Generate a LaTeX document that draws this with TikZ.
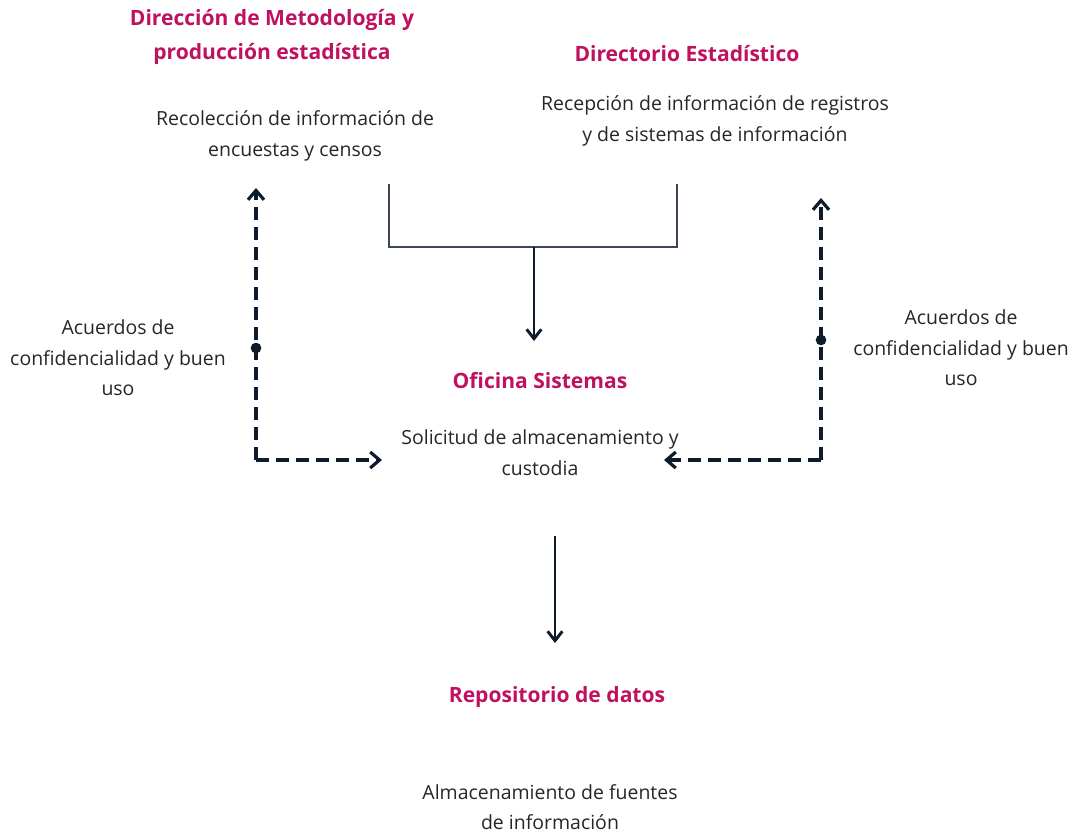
\documentclass[tikz,border=0pt]{standalone}
\usepackage{fontspec}
\setmainfont{Open Sans}
\usetikzlibrary{arrows.meta}
\definecolor{mag}{RGB}{192,16,96}
\definecolor{navy}{RGB}{14,27,44}
\definecolor{thin}{RGB}{60,72,88}
\tikzset{
  ttl/.style={text=mag,font=\fontsize{15.8}{25}\selectfont\bfseries,align=center,inner sep=0},
  txt/.style={text=black!85,font=\fontsize{14.6}{23}\selectfont,align=center,inner sep=0},
  solidarr/.style={draw=navy,line width=2.2pt,-{Straight Barb[length=7pt,width=11pt,line width=2.2pt]}},
  dasharr/.style={draw=navy,line width=2.6pt,dash pattern=on 10pt off 5pt,-{Straight Barb[length=7pt,width=12pt,line width=2.4pt]}},
  thinline/.style={draw=thin,line width=1.1pt},
  dotmark/.style={circle,fill=navy,inner sep=0,minimum size=8pt}
}
\begin{document}
\begin{tikzpicture}[x=0.75pt,y=-0.75pt]
\useasboundingbox (0,0) rectangle (1074,833);
% texts
\node[ttl] (t1) at (272,37) {Dirección de Metodología y\\producción estadística};
\node[txt] (d1) at (295,136) {Recolección de información de\\encuestas y censos};
\node[ttl] (t2) at (687,54) {Directorio Estadístico};
\node[txt] (d2) at (715,121) {Recepción de información de registros\\y de sistemas de información};
\node[ttl] (t3) at (540,381) {Oficina Sistemas};
\node[txt] (d3) at (540,453) {Solicitud de almacenamiento y\\custodia};
\node[ttl] (t4) at (557,697) {Repositorio de datos};
\node[txt] (d4) at (550,807) {Almacenamiento de fuentes\\de información};
\node[txt] (l1) at (118,358) {Acuerdos de\\confidencialidad y buen\\uso};
\node[txt] (l2) at (961,348) {Acuerdos de\\confidencialidad y buen\\uso};
% coordinates
\coordinate (b1) at (389,184);
\coordinate (b2) at (677,184);
\coordinate (bm) at (534,247);
\coordinate (a1) at (534,341);
\coordinate (la) at (256,188);
\coordinate (lc) at (256,460);
\coordinate (lt) at (382,460);
\coordinate (ra) at (821,198);
\coordinate (rc) at (821,460);
\coordinate (rt) at (664,460);
\coordinate (s1) at (555,536);
\coordinate (s2) at (555,643);
% bracket
\draw[thinline] (b1) |- (bm) -| (b2);
\draw[solidarr] (bm) -- (a1);
% dashed connectors
\draw[dasharr] (lc) -- (la);
\draw[dasharr] (lc) -- (lt);
\draw[dasharr] (rc) -- (ra);
\draw[dasharr] (rc) -- (rt);
\node[dotmark] (dl) at (256,348) {};
\node[dotmark] (dr) at (821,340) {};
\draw[solidarr] (s1) -- (s2);
\end{tikzpicture}
\end{document}
